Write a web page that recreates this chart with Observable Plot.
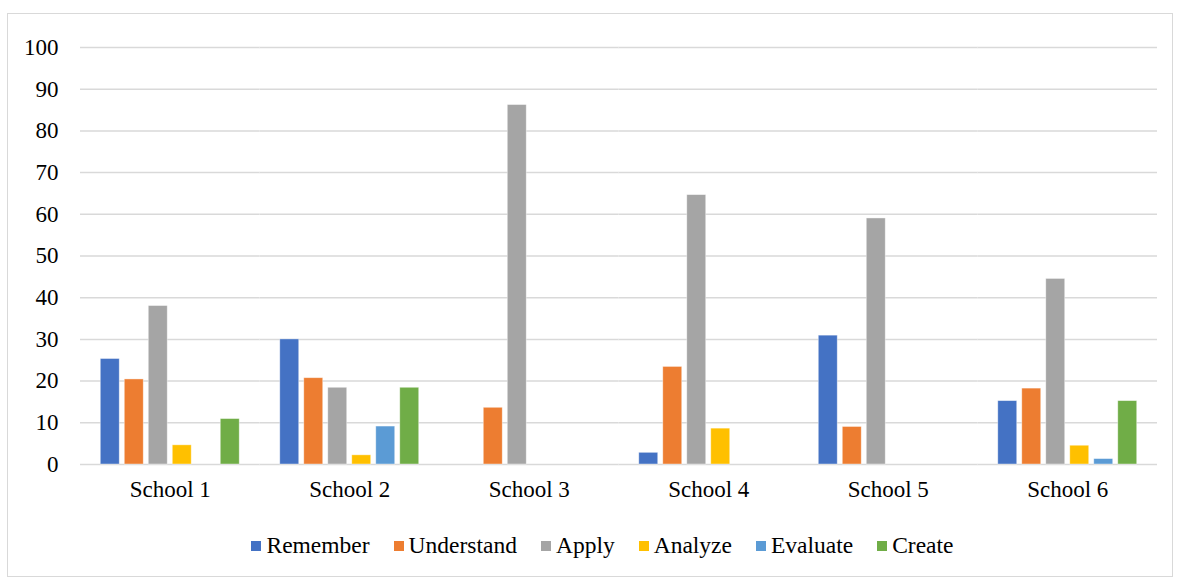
<!DOCTYPE html>
<html>
<head>
<meta charset="utf-8">
<script src="https://cdn.jsdelivr.net/npm/d3@7"></script>
<script src="https://cdn.jsdelivr.net/npm/@observablehq/plot@0.6"></script>
<style>
  html, body { margin: 0; padding: 0; background: #fff; }
  body { width: 1183px; height: 579px; position: relative; overflow: hidden; font-family: "Liberation Serif", "Times New Roman", serif; }
  #frame { position: absolute; left: 7px; top: 13px; width: 1166px; height: 564px; border: 1px solid #d9d9d9; box-sizing: border-box; }
  #chart { position: absolute; left: 0; top: 20px; }
  #legend { position: absolute; left: 11px; width: 1183px; top: 532px; display: flex; justify-content: center; gap: 24px; font-size: 23.5px; color: #000; }
  #legend .item { display: flex; align-items: center; }
  #legend .sw { width: 10px; height: 10px; margin-right: 5px; }
</style>
</head>
<body>
<div id="frame"></div>
<div id="chart"></div>
<div id="legend"></div>
<script>
const schools = ["School 1", "School 2", "School 3", "School 4", "School 5", "School 6"];
const levels = ["Remember", "Understand", "Apply", "Analyze", "Evaluate", "Create"];
const colors = ["#4472C4", "#ED7D31", "#A5A5A5", "#FFC000", "#5B9BD5", "#70AD47"];
const remember   = [25.3, 30.0, 0,    2.8,  30.9, 15.2];
const understand = [20.4, 20.7, 13.6, 23.4, 9.0,  18.2];
const apply      = [38.0, 18.4, 86.2, 64.6, 59.0, 44.5];
const analyze    = [4.6,  2.2,  0,    8.6,  0,    4.5];
const evaluate   = [0,    9.1,  0,    0,    0,    1.3];
const create     = [10.9, 18.4, 0,    0,    0,    15.2];
const yTicks = [0, 10, 20, 30, 40, 50, 60, 70, 80, 90, 100];

const series = [remember, understand, apply, analyze, evaluate, create];
const data = [];
schools.forEach((s, i) => levels.forEach((l, j) => data.push({school: s, level: l, value: series[j][i]})));

const plot = Plot.plot({
  width: 1183,
  height: 490,
  marginLeft: 80,
  marginRight: 26,
  marginTop: 27,
  marginBottom: 46,
  style: {fontFamily: "Liberation Serif, Times New Roman, serif", fontSize: "23px", color: "#000", background: "transparent"},
  fx: {domain: schools, padding: 0, round: false, axis: "bottom", tickSize: 0, tickPadding: 16, label: null},
  x: {domain: levels, axis: null, round: false, paddingInner: 0.21, paddingOuter: 0.845},
  y: {domain: [0, 100], ticks: yTicks, tickSize: 0, tickPadding: 22, label: null, tickFormat: d3.format("d")},
  color: {domain: levels, range: colors},
  marks: [
    Plot.gridY(yTicks, {stroke: "#d9d9d9", strokeOpacity: 1, strokeWidth: 1.5}),
    Plot.barY(data.filter(d => d.value > 0), {fx: "school", x: "level", y: "value", fill: "level", stroke: "#ffffff", strokeOpacity: 0.5, strokeWidth: 0.8})
  ]
});
document.getElementById("chart").appendChild(plot);

const legend = document.getElementById("legend");
levels.forEach((l, i) => {
  const item = document.createElement("div");
  item.className = "item";
  const sw = document.createElement("span");
  sw.className = "sw";
  sw.style.background = colors[i];
  const t = document.createElement("span");
  t.textContent = l;
  item.appendChild(sw);
  item.appendChild(t);
  legend.appendChild(item);
});
</script>
</body>
</html>
